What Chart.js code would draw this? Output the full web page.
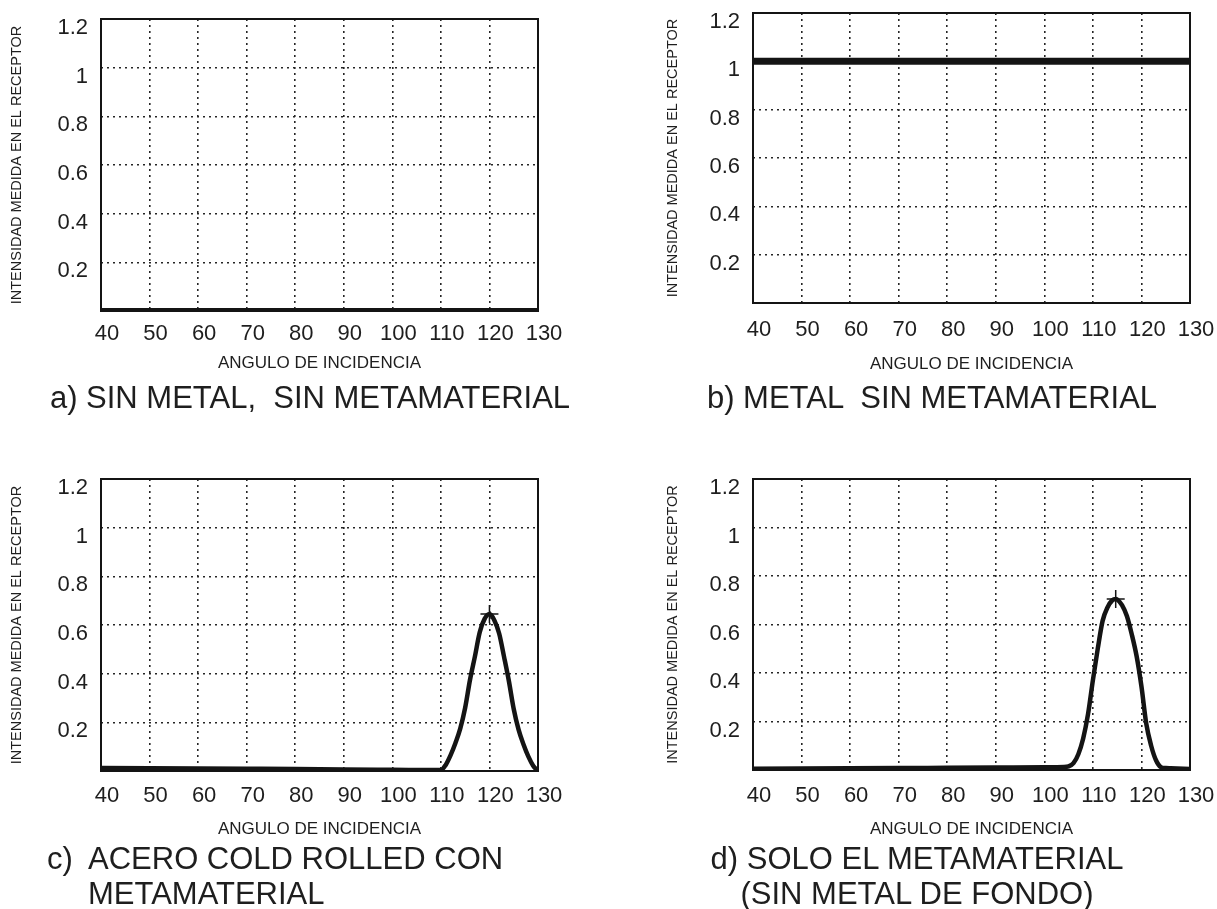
<!DOCTYPE html>
<html lang="es">
<head>
<meta charset="utf-8">
<title>Intensidad medida vs angulo de incidencia</title>
<script src="https://cdn.jsdelivr.net/npm/chart.js@4.4.1/dist/chart.umd.min.js"></script>
<style>
  body { margin: 0; background: #fff; }
  #wrap { position: relative; width: 1217px; height: 909px; overflow: hidden; }
  canvas { position: absolute; }
  .sub {
    position: absolute;
    font-family: "Liberation Sans", Arial, sans-serif;
    font-size: 31px;
    line-height: 35px;
    color: #1e1e1e;
    white-space: pre;
  }
  .hang { display: inline-block; width: 41px; }
</style>
</head>
<body>
<div id="wrap">
  <canvas id="chartA" width="600" height="400" style="left:0;top:0"></canvas>
  <canvas id="chartB" width="565" height="400" style="left:652px;top:0"></canvas>
  <canvas id="chartC" width="600" height="400" style="left:0;top:460px"></canvas>
  <canvas id="chartD" width="565" height="400" style="left:652px;top:460px"></canvas>

  <div class="sub" style="left:10px;top:380px;width:600px;text-align:center">a) SIN METAL,  SIN METAMATERIAL</div>
  <div class="sub" style="left:632px;top:380px;width:600px;text-align:center">b) METAL  SIN METAMATERIAL</div>
  <div class="sub" style="left:47px;top:841px"><span class="hang">c)</span>ACERO COLD ROLLED CON
<span class="hang"></span>METAMATERIAL</div>
  <div class="sub" style="left:617px;top:841px;width:600px;text-align:center">d) SOLO EL METAMATERIAL
(SIN METAL DE FONDO)</div>
</div>

<script>
// ejes
const xTicks = [40, 50, 60, 70, 80, 90, 100, 110, 120, 130];
const yTicks = [0.2, 0.4, 0.6, 0.8, 1, 1.2];
const yTickLabels = ["0.2", "0.4", "0.6", "0.8", "1", "1.2"];

// a) sin metal, sin metamaterial
const aAngles = [40, 130];
const aValues = [0, 0];

// b) metal sin metamaterial
const bAngles = [40, 130];
const bValues = [1, 1];

// c) acero cold rolled con metamaterial
const cAngles = [40, 50, 60, 70, 80, 90, 100, 110, 111, 112, 113, 114, 115, 116, 117, 118, 119, 120,
  121, 122, 123, 124, 125, 126, 127, 128, 129, 130];
const cValues = [0.012, 0.011, 0.01, 0.009, 0.008, 0.006, 0.005, 0.004, 0.025, 0.065, 0.115, 0.175,
  0.26, 0.375, 0.47, 0.57, 0.625, 0.645, 0.62, 0.565, 0.47, 0.37, 0.255, 0.17, 0.11, 0.06, 0.022, 0];

// d) solo el metamaterial
const dAngles = [40, 50, 60, 70, 80, 90, 100, 104, 105, 106, 107, 108, 109, 110, 111, 112, 113, 114,
  114.7, 115, 116, 117, 118, 119, 120, 121, 122, 123, 124, 125, 126, 130];
const dValues = [0.005, 0.006, 0.007, 0.008, 0.009, 0.01, 0.011, 0.012, 0.015, 0.028, 0.065, 0.13,
  0.23, 0.37, 0.5, 0.615, 0.67, 0.7, 0.705, 0.703, 0.68, 0.635, 0.56, 0.47, 0.345, 0.19, 0.1, 0.04,
  0.012, 0.008, 0.007, 0.004];

const ink = "#141414";
const textColor = "#1e1e1e";
const gridColor = "#262626";
const tickFont = { family: "'Liberation Sans', Arial, sans-serif", size: 22 };
const xTitleFont = { family: "'Liberation Sans', Arial, sans-serif", size: 17 };
const yTitleFont = { family: "'Liberation Sans', Arial, sans-serif", size: 14.5 };

// marco solido alrededor del area del grafico
const framePlugin = {
  id: "frame",
  beforeDatasetsDraw(chart) {
    const { ctx, chartArea } = chart;
    ctx.save();
    ctx.lineWidth = 2;
    ctx.strokeStyle = ink;
    ctx.strokeRect(chartArea.left, chartArea.top, chartArea.width, chartArea.height);
    ctx.restore();
  },
};

function makeChart(canvasId, angles, values, panel) {
  const canvas = document.getElementById(canvasId);
  const points = angles.map((a, i) => ({ x: a, y: values[i] }));
  const peak = values.indexOf(Math.max(...values));

  const config = {
    type: "line",
    data: {
      datasets: [
        {
          data: points,
          borderColor: ink,
          borderWidth: panel.lineWidth,
          cubicInterpolationMode: "monotone",
          fill: false,
          pointStyle: "cross",
          pointRadius: (ctx) => (panel.marker && ctx.dataIndex === peak ? 9 : 0),
          pointBorderWidth: 1.5,
          pointBorderColor: ink,
          pointBackgroundColor: ink,
        },
      ],
    },
    options: {
      responsive: false,
      animation: false,
      events: [],
      layout: {
        padding: { left: 0, top: panel.top, right: canvas.width - panel.right, bottom: 0 },
      },
      plugins: { legend: { display: false }, tooltip: { enabled: false } },
      scales: {
        x: {
          type: "linear",
          min: 40,
          max: 130,
          afterBuildTicks: (s) => {
            s.ticks = xTicks.map((v) => ({ value: v }));
          },
          afterFit: (s) => {
            s.height = canvas.height - panel.bottom;
            s.paddingLeft = 0;
            s.paddingRight = 0;
          },
          ticks: {
            font: tickFont,
            color: textColor,
            padding: panel.xTickPad,
            labelOffset: 6,
            autoSkip: false,
            maxRotation: 0,
            callback: (v) => String(v),
          },
          grid: { color: gridColor, lineWidth: 1.6, drawTicks: false },
          border: { display: false, dash: [2, 4] },
          title: {
            display: true,
            text: "ANGULO DE INCIDENCIA",
            font: xTitleFont,
            color: textColor,
            padding: { top: 0, bottom: panel.xTitlePad },
          },
        },
        y: {
          type: "linear",
          min: 0,
          max: 1.2,
          afterBuildTicks: (s) => {
            s.ticks = yTicks.map((v) => ({ value: v }));
          },
          afterFit: (s) => {
            s.width = panel.left;
            s.paddingTop = 0;
            s.paddingBottom = 0;
          },
          ticks: {
            font: tickFont,
            color: textColor,
            padding: 13,
            labelOffset: 9,
            callback: (v, i) => yTickLabels[i],
          },
          grid: { color: gridColor, lineWidth: 1.6, drawTicks: false },
          border: { display: false, dash: [2, 4] },
          title: {
            display: true,
            text: "INTENSIDAD MEDIDA EN EL RECEPTOR",
            font: yTitleFont,
            color: textColor,
            padding: { top: panel.yTitlePad, bottom: 0 },
          },
        },
      },
    },
    plugins: [framePlugin],
  };
  return new Chart(canvas, config);
}

makeChart("chartA", aAngles, aValues, {
  left: 101, right: 538, top: 19, bottom: 311, lineWidth: 6, marker: false,
  xTickPad: 10, xTitlePad: 26, yTitlePad: 8,
});
makeChart("chartB", bAngles, bValues, {
  left: 101, right: 538, top: 13, bottom: 303, lineWidth: 7, marker: false,
  xTickPad: 14, xTitlePad: 25, yTitlePad: 12,
});
makeChart("chartC", cAngles, cValues, {
  left: 101, right: 538, top: 19, bottom: 311, lineWidth: 4.5, marker: true,
  xTickPad: 12, xTitlePad: 20, yTitlePad: 8,
});
makeChart("chartD", dAngles, dValues, {
  left: 101, right: 538, top: 19, bottom: 310, lineWidth: 4.5, marker: true,
  xTickPad: 13, xTitlePad: 20, yTitlePad: 12,
});
</script>
</body>
</html>
